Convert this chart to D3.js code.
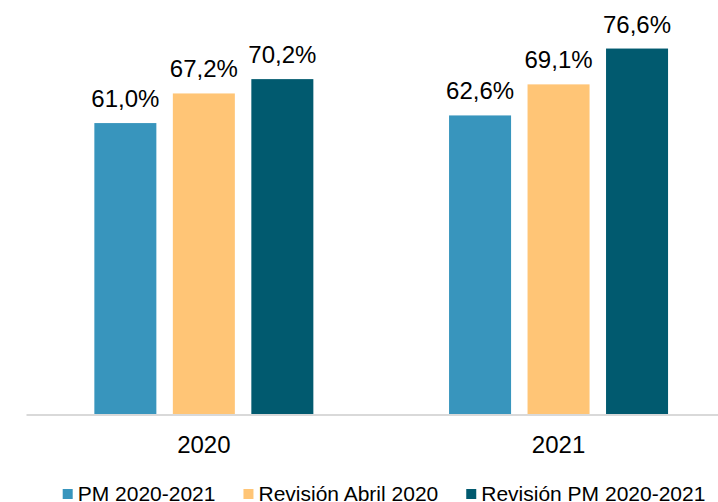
<!DOCTYPE html>
<html>
<head>
<meta charset="utf-8">
<script src="https://cdn.jsdelivr.net/npm/d3@7"></script>
<style>
  body { margin: 0; background: #fff; }
  text { font-family: "Liberation Sans", Arial, sans-serif; fill: #000; }
</style>
</head>
<body>
<div class="plot1"></div>
<script>
var years = ["2020", "2021"];
var seriesNames = ["PM 2020-2021", "Revisión Abril 2020", "Revisión PM 2020-2021"];
var seriesColors = ["#3895bd", "#ffc576", "#015a6f"];
var pm2020_2021 = [61.0, 62.6];
var revisionAbril2020 = [67.2, 69.1];
var revisionPM2020_2021 = [70.2, 76.6];

var seriesValues = [pm2020_2021, revisionAbril2020, revisionPM2020_2021];

var width = 718, height = 502;

var svg = d3.select(".plot1").append("svg")
  .attr("width", width)
  .attr("height", height);

var x0 = d3.scaleBand()
  .domain(years)
  .range([26.5, 735.9]);

var x1 = d3.scaleBand()
  .domain(d3.range(seriesNames.length))
  .range([-109.5, 109.5])
  .paddingInner(0.21);

var y = d3.scaleLinear()
  .domain([0, 80])
  .range([414.5, 32.3]);

// flatten to one record per bar
var bars = [];
years.forEach(function(yr, i) {
  seriesValues.forEach(function(vals, s) {
    bars.push({year: yr, s: s, value: vals[i]});
  });
});

var fmt = function(v) { return d3.format(".1f")(v).replace(".", ",") + "%"; };

var groups = svg.selectAll("g.bar")
  .data(bars)
  .enter()
  .append("g")
  .attr("class", "bar")
  .attr("transform", function(d) {
    return "translate(" + (x0(d.year) + x0.bandwidth() / 2) + ",0)";
  });

groups.append("rect")
  .attr("x", function(d) { return x1(d.s); })
  .attr("width", x1.bandwidth())
  .attr("y", function(d) { return y(d.value); })
  .attr("height", function(d) { return y(0) - y(d.value); })
  .style("fill", function(d) { return seriesColors[d.s]; });

groups.append("text")
  .attr("x", function(d) { return x1(d.s) + x1.bandwidth() / 2; })
  .attr("y", function(d) { return y(d.value) - 16; })
  .attr("text-anchor", "middle")
  .style("font-size", "24px")
  .text(function(d) { return fmt(d.value); });

// baseline
svg.append("line")
  .attr("x1", x0.range()[0])
  .attr("x2", x0.range()[1])
  .attr("y1", y(0) + 0.5)
  .attr("y2", y(0) + 0.5)
  .style("stroke", "#d9d9d9")
  .style("stroke-width", 2);

// category labels
svg.selectAll("text.cat")
  .data(years)
  .enter()
  .append("text")
  .attr("class", "cat")
  .attr("x", function(d) { return x0(d) + x0.bandwidth() / 2; })
  .attr("y", 453)
  .attr("text-anchor", "middle")
  .style("font-size", "24px")
  .text(function(d) { return d; });

// legend
var legend = svg.append("g").attr("transform", "translate(62.7,0)");
var lx = 0;
seriesNames.forEach(function(name, i) {
  var item = legend.append("g").attr("transform", "translate(" + lx + ",0)");
  item.append("rect")
    .attr("x", 0)
    .attr("y", 489)
    .attr("width", 10)
    .attr("height", 10)
    .style("fill", seriesColors[i]);
  var t = item.append("text")
    .attr("x", 15)
    .attr("y", 500.5)
    .style("font-size", "21px")
    .text(name);
  lx += 15 + t.node().getComputedTextLength() + 28;
});
</script>
</body>
</html>
